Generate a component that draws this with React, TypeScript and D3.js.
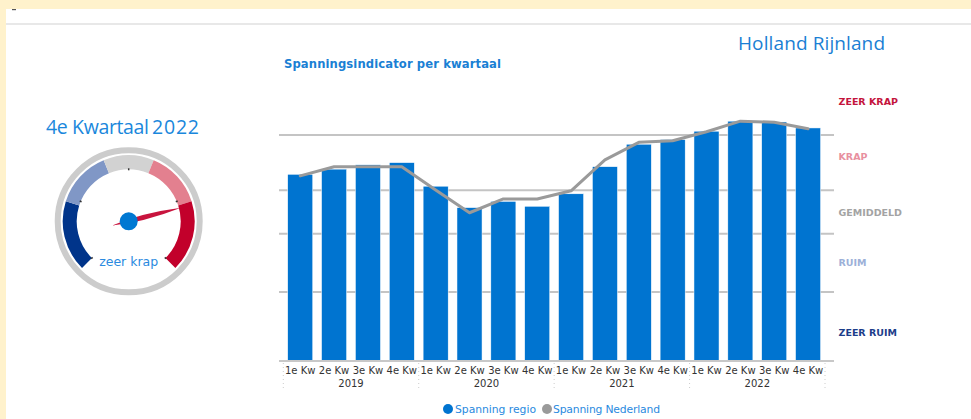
import React from "react";
import * as d3 from "d3";

const years = ["2019", "2020", "2021", "2022"];
const quarters = ["1e Kw", "2e Kw", "3e Kw", "4e Kw"];
const regioValues = [68.9, 70.8, 72.4, 73.2, 64.5, 56.6, 58.9, 57.1, 61.7, 71.7, 80.0, 81.7, 84.8, 88.5, 88.2, 86.0];
const nederlandValues = [68.3, 71.7, 71.7, 71.7, 63.1, 54.7, 59.8, 59.8, 62.8, 74.2, 80.7, 81.3, 84.6, 88.5, 88.1, 85.7];
const gridValues = [25.5, 47, 63, 83.4];
const bandLabels = ["ZEER KRAP", "KRAP", "GEMIDDELD", "RUIM", "ZEER RUIM"];
const bandLabelValues = [95.6, 75.3, 54.6, 36.2, 10.3];
const bandLabelColors = ["#c4143c", "#e8909f", "#a3a3a3", "#9cb0d8", "#1c3d8a"];
const gaugeTicks = [0, 1, 2, 3, 4];
const gaugeBands = [0, 0.93, 1.67, 2.33, 3.07, 4];
const gaugeBandColors = ["#00348a", "#8097c6", "#d2d2d2", "#e3808f", "#c2002b"];
const gaugeValue = 3.12;
const gaugeLabel = "zeer krap";
const periodTitle = ["4e Kwartaal", "2022"];
const regionTitle = "Holland Rijnland";
const chartTitle = "Spanningsindicator per kwartaal";
const legendItems = ["Spanning regio", "Spanning Nederland"];

export default function App() {
  const W = 971, H = 419;
  const cats = years.flatMap((y) => quarters.map((q) => `${y}|${q}`));
  const x = d3.scaleBand<string>().domain(cats).range([283.3, 825]).paddingInner(0.26).paddingOuter(0.13);
  const y = d3.scaleLinear().domain([0, 100]).range([361, 90]);
  const line = d3
    .line<number>()
    .x((_, i) => (x(cats[i]) as number) + x.bandwidth() / 2)
    .y((d) => y(d));
  const step = x.step();
  const x0 = 283.3;

  // gauge
  const gcx = 128.7, gcy = 221.3;
  const ga = d3.scaleLinear().domain([0, 4]).range([-135, 135]);
  const rad = (deg: number) => (deg * Math.PI) / 180;
  const arc = d3.arc<any>();
  const needleAngle = rad(ga(gaugeValue));
  const nx = Math.sin(needleAngle), ny = -Math.cos(needleAngle);
  const px = Math.cos(needleAngle), py = Math.sin(needleAngle);
  const L = 54, T = 17, bw = 3.5;
  const needlePath = `M${gcx + nx * L},${gcy + ny * L} Q${gcx + px * bw * 1.4 + nx * 14},${gcy + py * bw * 1.4 + ny * 14} ${gcx - nx * T},${gcy - ny * T} Q${gcx - px * bw * 1.4 + nx * 14},${gcy - py * bw * 1.4 + ny * 14} ${gcx + nx * L},${gcy + ny * L} Z`;

  return (
    <svg width={W} height={H} style={{ position: "absolute", left: 0, top: 0 }}>
      <rect x={0} y={0} width={W} height={H} fill="#fff2cc" />
      <rect x={6} y={9} width={W - 6} height={H - 9} fill="#ffffff" />
      <rect x={12} y={9} width={4} height={1.2} fill="#555" />
      <rect x={6} y={23} width={W - 6} height={2} fill="#e8e8e8" />

      {/* Titles */}
      <text x={738} y={50} textLength={147} fontFamily="Open Sans, sans-serif" fontSize={19} fill="#1a7fd4">{regionTitle}</text>
      <text x={284} y={68} textLength={217} fontFamily="DejaVu Sans, sans-serif" fontWeight="bold" fontSize={11.6} fill="#1a7fd4">{chartTitle}</text>
      <text x={46} y={134} textLength={103} fontFamily="Open Sans, sans-serif" fontSize={19.5} fill="#1a87dc">{periodTitle[0]}</text>
      <text x={152} y={134} textLength={47} fontFamily="Open Sans, sans-serif" fontSize={19.5} fill="#1a87dc">{periodTitle[1]}</text>

      {/* Gauge */}
      <circle cx={gcx} cy={gcy} r={71} fill="none" stroke="#cccccc" strokeWidth={6} />
      {gaugeBandColors.map((c, i) => (
        <path
          key={i}
          transform={`translate(${gcx},${gcy})`}
          d={arc({ innerRadius: 52, outerRadius: 66, startAngle: rad(ga(gaugeBands[i])), endAngle: rad(ga(gaugeBands[i + 1])) }) as string}
          fill={c}
        />
      ))}
      {gaugeTicks.map((t) => {
        const a = rad(ga(t));
        return (
          <line key={t} x1={gcx + Math.sin(a) * 51} y1={gcy - Math.cos(a) * 51} x2={gcx + Math.sin(a) * 53} y2={gcy - Math.cos(a) * 53} stroke="#333" strokeWidth={1.5} />
        );
      })}
      <path d={needlePath} fill="#c8143e" />
      <circle cx={gcx} cy={gcy} r={9} fill="#0078d2" />
      <text x={gcx} y={266} textAnchor="middle" fontFamily="DejaVu Sans, sans-serif" fontSize={12.5} fill="#2a8ae0">{gaugeLabel}</text>

      {/* Gridlines */}
      {gridValues.map((g) => (
        <line key={g} x1={279} x2={834} y1={y(g)} y2={y(g)} stroke="#c4c4c4" strokeWidth={2} />
      ))}

      {/* Bars */}
      {regioValues.map((v, i) => (
        <rect key={i} x={x(cats[i])} y={y(v)} width={x.bandwidth()} height={y(0) - y(v)} fill="#0074d0" stroke="#ffffff" strokeWidth={0.5} />
      ))}

      {/* Line */}
      <path d={line(nederlandValues) as string} fill="none" stroke="#9a9a9a" strokeWidth={3} strokeLinejoin="round" strokeLinecap="round" />

      {/* Baseline */}
      <line x1={279} x2={834} y1={y(0)} y2={y(0)} stroke="#c8c8c8" strokeWidth={2} />

      {/* Axis labels */}
      {cats.map((c, i) => (
        <text key={c} x={(x(c) as number) + x.bandwidth() / 2} y={374} textAnchor="middle" fontFamily="DejaVu Sans, sans-serif" fontSize={10} fill="#333">{quarters[i % 4]}</text>
      ))}
      {years.map((yr, j) => (
        <text key={yr} x={x0 + step * (4 * j + 2)} y={387} textAnchor="middle" fontFamily="DejaVu Sans, sans-serif" fontSize={10} fill="#333">{yr}</text>
      ))}
      {d3.range(years.length + 1).map((j) => (
        <line key={j} x1={x0 + step * 4 * j} x2={x0 + step * 4 * j} y1={363} y2={390} stroke="#cccccc" strokeWidth={1} strokeDasharray="1,3" />
      ))}

      {/* Band labels */}
      {bandLabels.map((b, i) => (
        <text key={b} x={838.5} y={y(bandLabelValues[i])} dy="0.35em" fontFamily="DejaVu Sans, sans-serif" fontWeight="bold" fontSize={9.5} fill={bandLabelColors[i]}>{b}</text>
      ))}

      {/* Legend */}
      <circle cx={448} cy={409} r={5} fill="#0074d0" />
      <text x={455} y={413} textLength={81} fontFamily="DejaVu Sans, sans-serif" fontSize={10.8} fill="#2a8ae0">{legendItems[0]}</text>
      <circle cx={547} cy={409} r={5} fill="#9a9a9a" />
      <text x={553} y={413} textLength={107} fontFamily="DejaVu Sans, sans-serif" fontSize={10.8} fill="#2a8ae0">{legendItems[1]}</text>
    </svg>
  );
}
